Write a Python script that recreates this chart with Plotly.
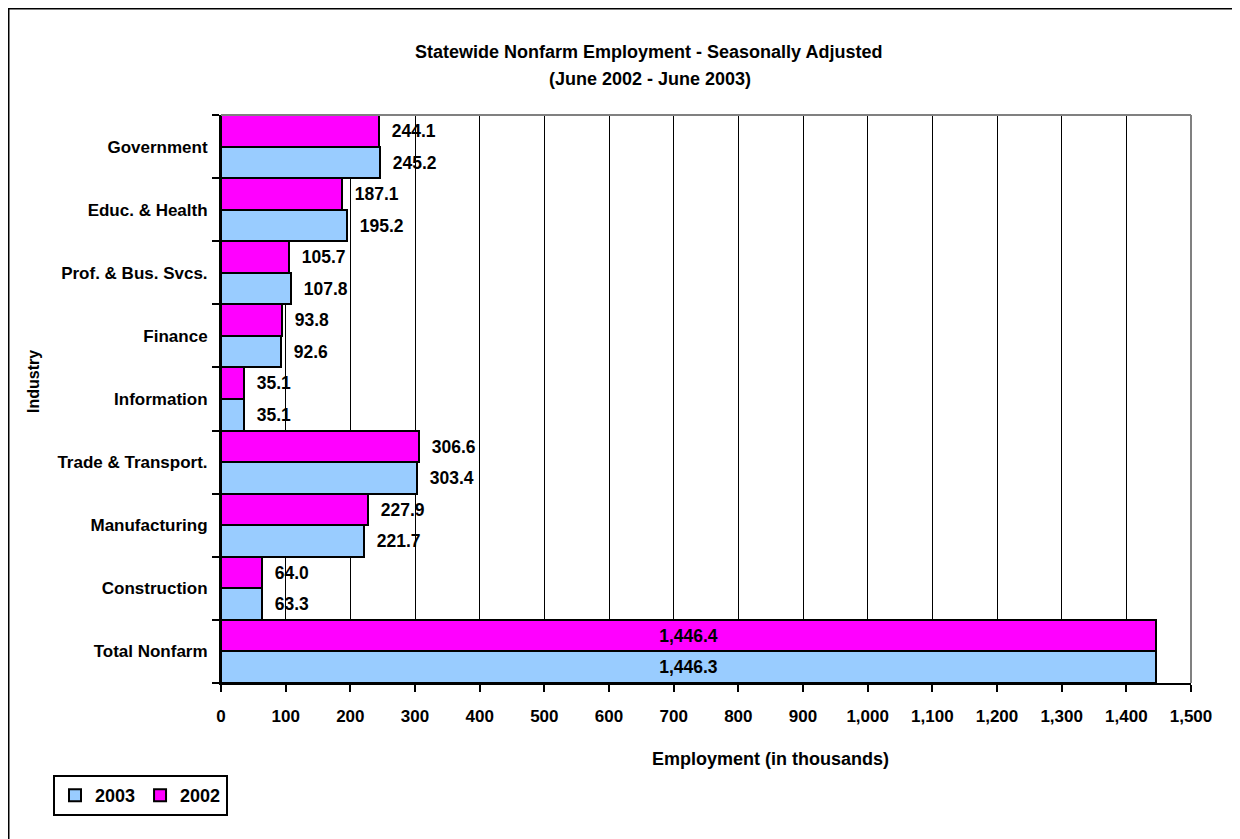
import plotly.graph_objects as go

industries = ["Total Nonfarm", "Construction", "Manufacturing", "Trade & Transport.",
              "Information", "Finance", "Prof. & Bus. Svcs.", "Educ. & Health", "Government"]
emp_2003 = [1446.3, 63.3, 221.7, 303.4, 35.1, 92.6, 107.8, 195.2, 245.2]
emp_2002 = [1446.4, 64.0, 227.9, 306.6, 35.1, 93.8, 105.7, 187.1, 244.1]
x_ticks = list(range(0, 1501, 100))

FONT = "Liberation Sans, Arial, sans-serif"
OFF = 8                      # page offset of the figure (body margin)
W, H = 1232, 831             # figure size
# plot area in page pixels
PL, PR, PT, PB = 221, 1191, 115, 683
L, R, T, B = PL - OFF, PR - OFF, PT - OFF, PB - OFF


def px_x(p):  # page x -> paper x
    return (p - PL) / (PR - PL)


def px_y(p):  # page y -> paper y
    return 1 - (p - PT) / (PB - PT)


positions = ["inside"] + ["outside"] * (len(industries) - 1)
templates = ["%{x:,.1f}"] + ["  %{x:,.1f}"] * (len(industries) - 1)
label_font = dict(family=FONT, size=17.5, color="black", weight="bold")

fig = go.Figure()
fig.add_trace(go.Bar(
    y=industries, x=emp_2003, name="2003", orientation="h",
    marker=dict(color="#99CCFF", line=dict(color="black", width=2)),
    texttemplate=templates, textposition=positions, insidetextanchor="middle",
    textfont=label_font, insidetextfont=label_font, outsidetextfont=label_font,
    cliponaxis=False,
))
fig.add_trace(go.Bar(
    y=industries, x=emp_2002, name="2002", orientation="h",
    marker=dict(color="#FF00FF", line=dict(color="black", width=2)),
    texttemplate=templates, textposition=positions, insidetextanchor="middle",
    textfont=label_font, insidetextfont=label_font, outsidetextfont=label_font,
    cliponaxis=False,
))

annotations = [
    dict(text="<b>Statewide Nonfarm Employment - Seasonally Adjusted</b>",
         xref="paper", yref="paper", x=px_x(648), y=px_y(52),
         xanchor="center", yanchor="middle", showarrow=False,
         font=dict(family=FONT, size=18, color="black")),
    dict(text="<b>(June 2002 - June 2003)</b>",
         xref="paper", yref="paper", x=px_x(650), y=px_y(79),
         xanchor="center", yanchor="middle", showarrow=False,
         font=dict(family=FONT, size=18, color="black")),
    dict(text="<b>Employment (in thousands)</b>",
         xref="paper", yref="paper", x=px_x(770), y=px_y(759),
         xanchor="center", yanchor="middle", showarrow=False,
         font=dict(family=FONT, size=18, color="black")),
    dict(text="<b>Industry</b>", textangle=-90,
         xref="paper", yref="paper", x=px_x(33), y=px_y(382),
         xanchor="center", yanchor="middle", showarrow=False,
         font=dict(family=FONT, size=16, color="black")),
]

fig.update_layout(
    width=W, height=H,
    margin=dict(l=L, r=W - R, t=T, b=H - B, autoexpand=False),
    paper_bgcolor="white", plot_bgcolor="white",
    barmode="group", bargap=0, bargroupgap=0,
    font=dict(family=FONT, size=17, color="black"),
    xaxis=dict(
        range=[0, 1500], tickvals=x_ticks, tickformat=",d",
        showgrid=True, gridcolor="black", gridwidth=1,
        showline=True, linecolor="black", linewidth=2,
        ticks="outside", ticklen=7, tickwidth=2, tickcolor="black",
        ticklabelstandoff=10,
        tickfont=dict(family=FONT, size=17, weight="bold"),
        zeroline=False,
    ),
    yaxis=dict(
        type="category", categoryorder="array", categoryarray=industries,
        showline=True, linecolor="black", linewidth=2,
        ticks="outside", tickson="boundaries", ticklen=7, tickwidth=2, tickcolor="black",
        ticklabelstandoff=8,
        tickfont=dict(family=FONT, size=17, weight="bold"),
        showgrid=False,
    ),
    legend=dict(
        orientation="h", x=px_x(53), y=px_y(775), xanchor="left", yanchor="top",
        bordercolor="black", borderwidth=2, bgcolor="white",
        font=dict(family=FONT, size=18, weight="bold"),
        traceorder="normal", itemwidth=30,
    ),
    showlegend=True,
    annotations=annotations,
    shapes=[
        dict(type="rect", xref="paper", yref="paper",
             x0=px_x(8.5), x1=px_x(1300), y0=px_y(900), y1=px_y(8.5),
             line=dict(color="black", width=2), layer="below"),
        dict(type="line", xref="paper", yref="paper", x0=0, x1=1, y0=1, y1=1,
             line=dict(color="#808080", width=2)),
        dict(type="line", xref="paper", yref="paper", x0=1, x1=1, y0=0, y1=1,
             line=dict(color="#808080", width=2)),
    ],
)

fig.write_html("out.html")
